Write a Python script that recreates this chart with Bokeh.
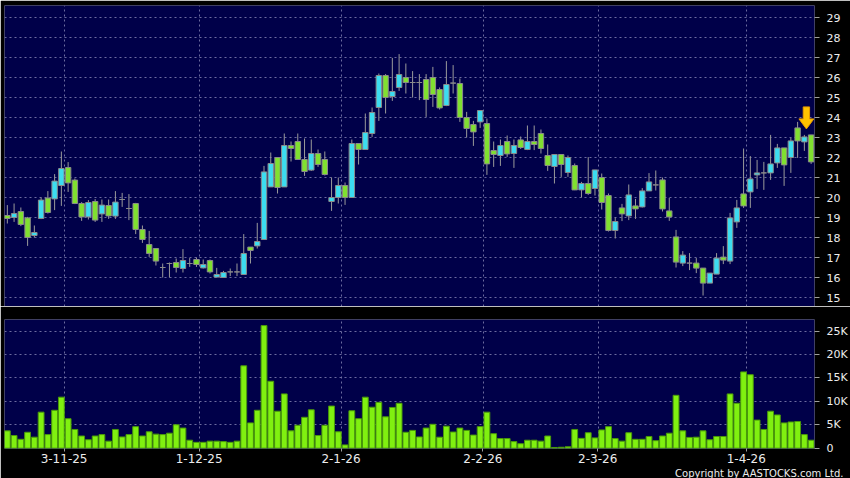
from bokeh.plotting import figure
from bokeh.layouts import column
from bokeh.models import FixedTicker, Range1d, Title, ColumnDataSource
from bokeh.embed import file_html
from bokeh.resources import INLINE

# ---- data ----
open_ = [19.1, 19.0, 19.3, 18.98, 18.1, 18.95, 19.97, 19.93, 20.6, 21.5,
         20.87, 19.7, 19.03, 19.8, 19.18, 19.6, 19.07, 19.9, 19.45, 19.7,
         18.4, 17.65, 17.45, 16.5, 16.7, 16.75, 16.45, 16.7, 16.9, 16.48,
         16.85, 16.02, 16.0, 16.28, 16.28, 16.15, 17.52, 17.58, 17.9, 20.53,
         22.0, 20.53, 22.6, 22.8, 21.9, 21.37, 22.2, 21.9, 19.8, 20.0,
         20.6, 20.0, 22.7, 22.4, 23.2, 24.5, 26.1, 25.05, 25.5, 26.0,
         25.75, 25.75, 25.9, 26.0, 25.4, 24.6, 25.72, 25.7, 24.0, 23.65,
         23.78, 23.7, 22.35, 22.1, 22.8, 22.2, 22.88, 22.4, 22.8, 23.2,
         22.1, 21.55, 22.15, 21.25, 21.6, 20.38, 20.7, 20.45, 21.0, 20.1,
         18.35, 19.48, 19.08, 19.58, 19.53, 20.33, 20.63, 20.88, 19.33, 18.03,
         16.72, 16.72, 16.72, 16.47, 15.72, 16.17, 17.02, 16.82, 18.78, 20.18,
         20.28, 21.13, 21.23, 21.23, 21.73, 22.48, 22.0, 23.48, 22.78, 23.13]
high = [19.62, 19.7, 19.5, 19.03, 18.6, 20.0, 20.32, 21.17, 22.3, 21.77,
        20.95, 19.77, 19.87, 19.92, 19.9, 19.9, 20.32, 20.23, 20.17, 19.73,
        18.6, 18.33, 17.45, 16.7, 16.75, 16.95, 17.42, 16.97, 17.0, 16.9,
        16.9, 16.48, 16.33, 16.45, 16.7, 18.17, 17.52, 18.73, 21.58, 22.25,
        22.0, 23.2, 22.8, 23.2, 22.95, 22.9, 22.4, 22.3, 21.0, 21.0,
        20.75, 22.9, 22.7, 24.2, 24.5, 26.2, 26.17, 26.98, 27.17, 26.7,
        26.32, 26.17, 26.17, 26.53, 25.5, 26.82, 26.62, 25.95, 24.28, 23.83,
        24.35, 23.95, 22.8, 22.9, 23.1, 22.9, 23.05, 23.6, 23.6, 23.4,
        22.65, 22.15, 22.15, 22.1, 21.7, 20.78, 22.02, 21.38, 21.2, 20.2,
        19.0, 19.68, 20.65, 19.93, 20.47, 21.22, 21.35, 21.0, 19.98, 18.38,
        17.32, 17.22, 16.97, 16.47, 16.22, 17.22, 17.57, 19.23, 19.88, 22.45,
        22.07, 21.88, 21.78, 23.13, 22.68, 22.48, 22.98, 23.78, 23.13, 23.13]
low = [18.7, 18.78, 18.57, 17.58, 18.0, 18.92, 19.2, 19.37, 19.58, 20.28,
       19.67, 18.83, 18.9, 18.78, 18.78, 18.93, 18.93, 19.53, 18.87, 18.17,
       17.73, 17.03, 16.6, 16.0, 16.0, 16.25, 16.25, 16.53, 16.53, 16.45,
       16.2, 16.0, 16.0, 16.07, 16.07, 16.15, 16.7, 17.45, 17.9, 20.53,
       20.2, 20.53, 21.8, 21.9, 21.08, 21.33, 21.53, 21.1, 19.33, 19.7,
       19.63, 20.0, 21.65, 22.4, 23.03, 23.83, 24.2, 24.83, 25.33, 25.2,
       25.0, 24.87, 24.03, 24.53, 24.4, 24.57, 25.2, 23.78, 23.0, 22.58,
       23.48, 21.13, 21.53, 21.58, 22.03, 21.48, 22.43, 22.37, 22.37, 22.2,
       21.33, 20.7, 21.03, 21.03, 20.37, 20.0, 20.13, 20.1, 19.4, 18.3,
       17.95, 18.82, 18.87, 18.93, 19.5, 20.33, 20.35, 19.3, 18.83, 16.5,
       16.57, 16.37, 16.22, 15.1, 15.72, 16.17, 16.67, 16.67, 18.48, 19.48,
       19.48, 20.43, 20.38, 20.88, 21.48, 20.58, 21.23, 21.98, 22.33, 21.68]
close = [18.95, 19.2, 18.65, 18.0, 18.25, 19.87, 19.25, 20.82, 21.45, 20.73,
         19.7, 19.03, 19.75, 18.87, 19.62, 19.08, 19.77, 19.9, 19.45, 18.4,
         17.9, 17.2, 16.82, 16.5, 16.7, 16.5, 16.85, 16.7, 16.65, 16.65,
         16.28, 16.15, 16.25, 16.28, 16.28, 17.2, 17.35, 17.8, 21.28, 21.7,
         20.5, 22.6, 22.45, 21.9, 21.3, 22.2, 21.65, 21.15, 20.0, 20.6,
         20.0, 22.7, 22.4, 23.25, 24.25, 26.1, 25.0, 25.3, 26.15, 25.75,
         25.75, 25.75, 24.9, 25.15, 24.48, 25.65, 25.72, 24.0, 23.45, 23.28,
         24.35, 21.68, 22.15, 22.6, 22.18, 22.6, 22.5, 22.8, 22.65, 22.45,
         21.6, 22.15, 21.65, 22.0, 20.38, 20.7, 20.2, 21.38, 19.75, 18.35,
         18.8, 19.18, 20.13, 19.43, 20.33, 20.78, 20.63, 19.43, 19.03, 16.77,
         17.12, 16.72, 16.47, 15.72, 16.22, 16.97, 16.87, 18.98, 19.48, 19.58,
         20.93, 21.23, 21.23, 21.68, 22.48, 21.63, 22.83, 22.83, 23.03, 21.78]
volume = [3700, 2700, 1900, 3400, 2350, 7700, 2900, 8100, 10900, 6300,
          4000, 2600, 1800, 2600, 2900, 1500, 4000, 2400, 2900, 4600,
          2600, 3500, 3000, 2900, 3200, 5000, 4300, 1700, 1250, 1250,
          1500, 1500, 1400, 1250, 1500, 17600, 5400, 8100, 26200, 14300,
          7900, 11600, 3700, 4900, 6600, 8200, 2700, 4900, 9000, 3500,
          700, 8000, 6300, 10900, 8750, 9800, 6700, 8700, 9600, 3400,
          3800, 2400, 4300, 5100, 2350, 4700, 3450, 4300, 3800, 2800,
          4600, 7700, 3100, 2050, 2050, 1400, 950, 1700, 1700, 1500,
          2600, 150, 200, 300, 4000, 2100, 3300, 2200, 3900, 4600,
          2050, 1500, 3300, 1900, 1900, 2500, 1600, 2600, 3200, 11300,
          3700, 2300, 2350, 3700, 1800, 2500, 2500, 11600, 9600, 16300,
          15700, 6000, 4000, 7900, 7100, 5400, 5600, 5700, 2900, 1700]

tick_index = [8, 28, 49, 70, 87, 109]
tick_labels = ["3-11-25", "1-12-25", "2-1-26", "2-2-26", "2-3-26", "1-4-26"]
price_ticks = list(range(15, 30))
vol_ticks = [0, 5000, 10000, 15000, 20000, 25000]
vol_tick_labels = ["0", "5K", "10K", "15K", "20K", "25K"]
marker_index = 118  # candle under the arrow

# ---- styling ----
NAVY = "#000049"
CYAN = "#3cdcf0"
GREEN = "#80e030"
GRID = "#6c6ca0"
TXT = "#ececec"
FONT = "DejaVu Sans"

W = 850
FRAME_W = 813
PRICE_LO, PRICE_HI = 14.55, 29.6
PRICE_FRAME_H = 301

n = len(open_)
xs = list(range(n))
top = [max(o, c) for o, c in zip(open_, close)]
bot = [min(o, c) for o, c in zip(open_, close)]
col = [CYAN if c > o else GREEN for o, c in zip(open_, close)]
src = ColumnDataSource(dict(x=xs, high=high, low=low, top=top, bot=bot, col=col, vol=volume))

x_range = Range1d(-0.42, n - 0.5)


def style(fig):
    fig.background_fill_color = NAVY
    fig.border_fill_color = "black"
    fig.outline_line_color = None
    fig.xgrid.ticker = FixedTicker(ticks=[i + 0.5 for i in tick_index])
    for g in (fig.xgrid, fig.ygrid):
        g.grid_line_color = GRID
        g.grid_line_dash = "2 3"
        g.grid_line_width = 1
    ax = fig.yaxis[0]
    ax.axis_line_color = None
    ax.major_tick_in = 0
    ax.major_tick_out = 5
    ax.major_tick_line_color = "#a0a0a0"
    ax.minor_tick_line_color = None
    ax.major_label_standoff = 7
    ax.major_label_text_color = TXT
    ax.major_label_text_font = FONT
    ax.major_label_text_font_size = "11px"


p = figure(width=W, height=306, x_range=x_range, y_range=Range1d(PRICE_LO, PRICE_HI),
           x_axis_location=None, y_axis_location="right",
           output_backend="svg", toolbar_location=None,
           min_border_left=4, min_border_right=W - 4 - FRAME_W, min_border_top=5,
           min_border_bottom=0)
style(p)
p.yaxis.ticker = FixedTicker(ticks=price_ticks)

p.segment(x0="x", y0="low", x1="x", y1="high", source=src, line_color="#9a9a9a", line_width=1)
p.vbar(x="x", top="top", bottom="bot", width=0.8, source=src,
       fill_color="col", line_color="#8a8a8a", line_width=1)

# down arrow marker above the flagged candle (sized in pixels)
ppx_y = (PRICE_HI - PRICE_LO) / PRICE_FRAME_H
ppx_x = (n - 0.5 + 0.42) / FRAME_W
ax_c = marker_index + 0.3
tip = high[marker_index] + 0.3
hw, sw = 7.5 * ppx_x, 3.2 * ppx_x
hh, sh = 10 * ppx_y, 12 * ppx_y
p.patch([ax_c, ax_c - hw, ax_c - sw, ax_c - sw, ax_c + sw, ax_c + sw, ax_c + hw],
        [tip, tip + hh, tip + hh, tip + hh + sh, tip + hh + sh, tip + hh, tip + hh],
        fill_color="#ffc200", line_color="#e49a00", line_width=1)

v = figure(width=W, height=172, x_range=x_range, y_range=Range1d(-70, 27500),
           y_axis_location="right",
           output_backend="svg", toolbar_location=None,
           min_border_left=4, min_border_right=W - 4 - FRAME_W, min_border_top=13,
           min_border_bottom=0)
style(v)
v.yaxis.ticker = FixedTicker(ticks=vol_ticks)
v.yaxis.major_label_overrides = {t: l for t, l in zip(vol_ticks, vol_tick_labels)}
v.ygrid.ticker = FixedTicker(ticks=vol_ticks[1:])

xa = v.xaxis[0]
xa.ticker = FixedTicker(ticks=[i + 0.4 for i in tick_index])
xa.major_label_overrides = {i + 0.4: l for i, l in zip(tick_index, tick_labels)}
xa.axis_line_color = None
xa.major_tick_in = 0
xa.major_tick_out = 3
xa.major_tick_line_color = "#a0a0a0"
xa.minor_tick_line_color = None
xa.major_label_standoff = 2
xa.major_label_text_color = TXT
xa.major_label_text_font = FONT
xa.major_label_text_font_size = "12px"

v.vbar(x="x", top="vol", bottom=0, width=0.86, source=src,
       fill_color="#80f010", line_color="#4a9a0a", line_width=1)

v.add_layout(Title(text="Copyright by AASTOCKS.com Ltd.", align="right", offset=-29,
                   text_color=TXT, text_font=FONT, text_font_size="10px",
                   text_font_style="normal", standoff=0), "below")

layout = column(p, v, spacing=0)
open("out.html", "w").write(file_html(layout, INLINE))
